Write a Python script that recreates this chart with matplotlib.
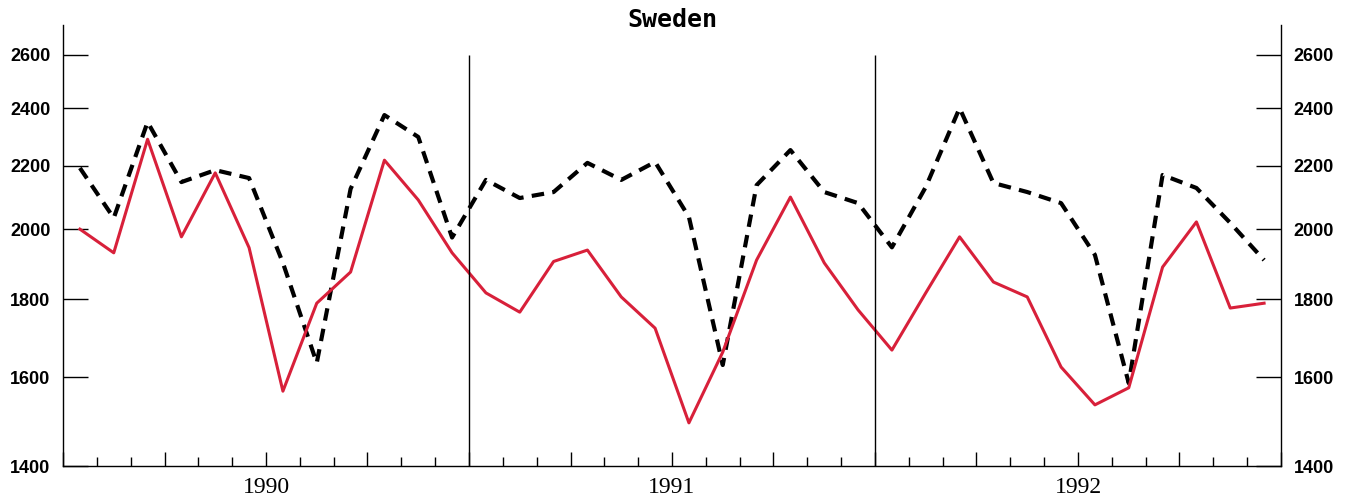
import numpy as np
import matplotlib
matplotlib.use("Agg")
import matplotlib.pyplot as plt

# monthly values Jan 1990 .. Dec 1992
red_series = [2000, 1930, 2290, 1977, 2177, 1945, 1567, 1789, 1875, 2219, 2090, 1930,
              1817, 1765, 1905, 1938, 1806, 1723, 1494, 1662, 1909, 2099, 1901, 1771,
              1667, 1817, 1977, 1847, 1806, 1625, 1535, 1575, 1889, 2022, 1776, 1789]
dashed_series = [2193, 2034, 2350, 2147, 2186, 2160, 1901, 1635, 2125, 2375, 2298, 1975,
                 2154, 2096, 2115, 2210, 2154, 2213, 2037, 1630, 2137, 2253, 2115, 2080,
                 1946, 2131, 2400, 2144, 2115, 2080, 1924, 1586, 2170, 2128, 2019, 1909]
years = ['1990', '1991', '1992']
ytick_values = [1400, 1600, 1800, 2000, 2200, 2400, 2600]

months = np.arange(len(red_series)) + 0.5

fig = plt.figure(figsize=(13.51, 5.03), dpi=100)
ax = fig.add_axes([63 / 1351, 1 - 466 / 503, (1281 - 63) / 1351, (466 - 25) / 503])

ax.plot(months, dashed_series, color='black', lw=3, dashes=(3, 2))
ax.plot(months, red_series, color='#d8203a', lw=2.2)

ax.set_yscale('log')
ax.set_ylim(1400, 2720)
ax.set_xlim(0, 36)

# year dividers
ax.vlines([12, 24], 1400, 2600, color='black', lw=1)

ax.spines['top'].set_visible(False)
for s in ['left', 'right', 'bottom']:
    ax.spines[s].set_linewidth(1)

ax.yaxis.set_minor_locator(matplotlib.ticker.NullLocator())
ax.set_yticks(ytick_values)
ax.set_yticklabels([str(v) for v in ytick_values], family='Liberation Sans',
                   fontweight='bold')
ax.tick_params(axis='y', which='major', direction='in', length=18, width=1,
               left=True, right=True, labelleft=True, labelright=True,
               labelsize=13, pad=9)

ax.set_xticks(np.arange(0, 37, 3))
xlabels = [''] * 13
for i, y in enumerate(years):
    xlabels[2 + 4 * i] = y
ax.set_xticklabels(xlabels, family='Liberation Serif', fontsize=17)
ax.set_xticks(np.arange(0, 37, 1), minor=True)
ax.tick_params(axis='x', which='major', direction='in', length=10, width=1, pad=8)
ax.tick_params(axis='x', which='minor', direction='in', length=6.5, width=1)

fig.text(672 / 1351, 1 - 20 / 503, 'Sweden', ha='center', va='center',
         family='DejaVu Sans Mono', fontweight='bold', fontsize=18)

fig.savefig('out.png', dpi=100, facecolor='white')
